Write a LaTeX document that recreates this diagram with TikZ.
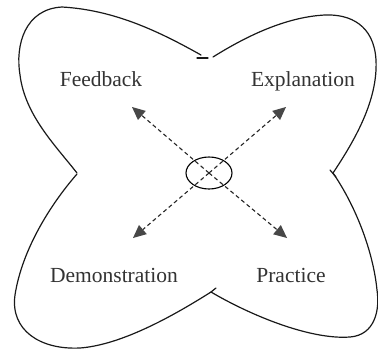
\documentclass[tikz,border=0pt]{standalone}
\usepackage{fontspec}
\setmainfont{Liberation Serif}
\usetikzlibrary{arrows.meta,shapes.geometric}
\tikzset{
  outline/.style={line width=1.2pt, black!90, line join=round, line cap=round},
  label/.style={font=\fontsize{21.5}{24}\selectfont, text=black!80, anchor=base, inner sep=0pt},
  dasharrow/.style={line width=1.1pt, black!85, dash pattern=on 4pt off 3pt,
    -{Triangle[length=13pt,width=12pt,fill=black!72,line width=0pt]}},
  hub/.style={ellipse, draw, line width=1.1pt, minimum width=46pt, minimum height=32pt, inner sep=0pt}
}
\begin{document}
\begin{tikzpicture}[x=1pt,y=-1pt]
\useasboundingbox (0,0) rectangle (378,351);
% four-lobed outline
\draw[outline] (201,55) .. controls (160,32) and (115,10) .. (62,7)
  .. controls (25,9) and (15,45) .. (20,75)
  .. controls (25,115) and (55,145) .. (77,173);
\draw[outline] (197,58) -- (208,58);
\draw[outline] (77,174) .. controls (50,205) and (22,250) .. (15,295)
  .. controls (10,330) and (40,350) .. (80,348)
  .. controls (120,345) and (170,318) .. (211,292) -- (216,288);
\draw[outline] (211,292) .. controls (250,315) and (310,340) .. (350,337)
  .. controls (375,335) and (380,310) .. (377,290)
  .. controls (373,250) and (355,205) .. (333,173);
\draw[outline] (333,173) .. controls (355,140) and (378,100) .. (376,60)
  .. controls (374,25) and (350,14) .. (325,15)
  .. controls (285,17) and (245,37) .. (213,57);
\draw[outline] (330,170) -- (336,177);
% labels
\node[label] (fb) at (101,86) {Feedback};
\node[label] (ex) at (303,86) {Explanation};
\node[label] (de) at (114,282) {Demonstration};
\node[label] (pr) at (291,282) {Practice};
% hub
\node[hub] (c) at (209,173) {};
\coordinate (tfb) at (132,107);
\coordinate (tex) at (286,107);
\coordinate (tde) at (133,238);
\coordinate (tpr) at (287,238);
\draw[dasharrow] (c.center) -- (tfb);
\draw[dasharrow] (c.center) -- (tex);
\draw[dasharrow] (c.center) -- (tde);
\draw[dasharrow] (c.center) -- (tpr);
\end{tikzpicture}
\end{document}
